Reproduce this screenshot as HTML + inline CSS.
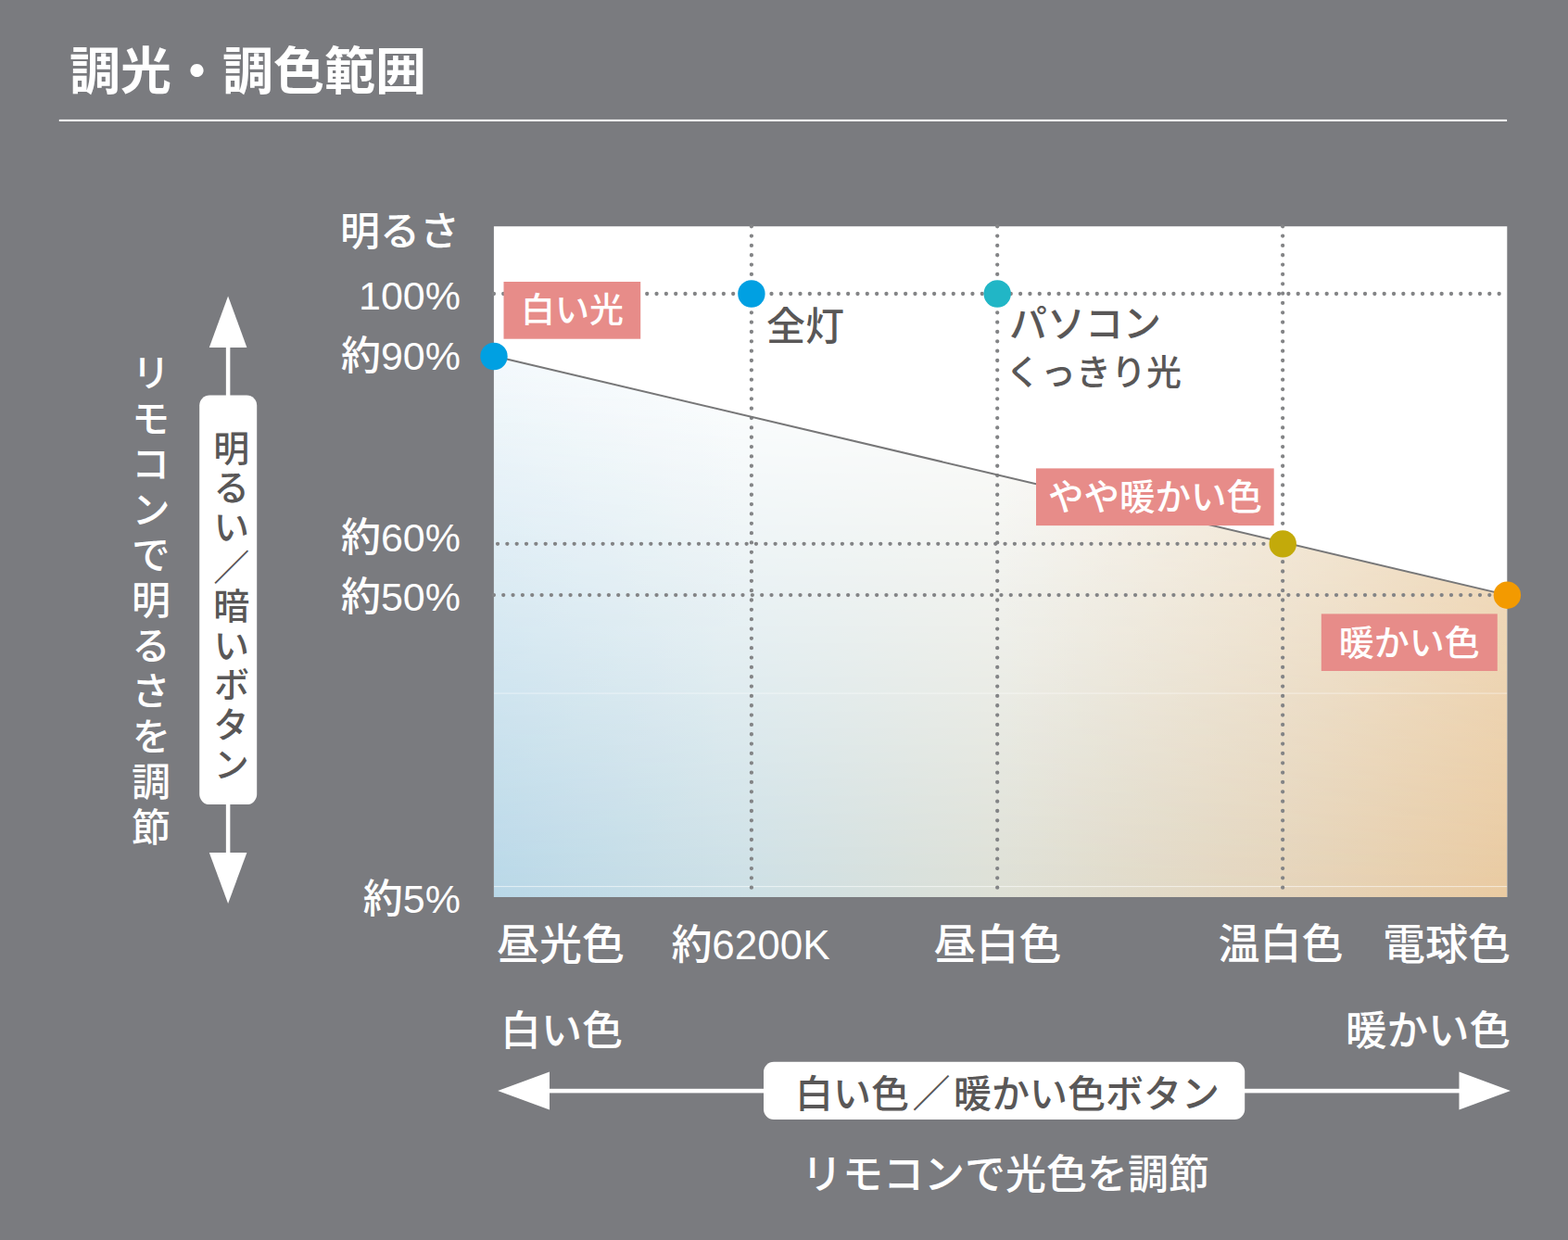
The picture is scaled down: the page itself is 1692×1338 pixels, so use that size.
<!DOCTYPE html>
<html lang="ja">
<head>
<meta charset="utf-8">
<title>調光・調色範囲</title>
<style>
html,body{margin:0;padding:0;background:#7a7b7f;}
body{width:1692px;height:1338px;overflow:hidden;font-family:"Liberation Sans","Noto Sans CJK JP",sans-serif;}
#chart{position:relative;width:1692px;height:1338px;background:#7a7b7f;overflow:hidden;}
#chart svg{position:absolute;left:0;top:0;display:block;}
#chart svg text{font-family:"Liberation Sans","Noto Sans CJK JP",sans-serif;font-weight:500;}
.t{position:absolute;display:block;overflow:hidden;white-space:nowrap;color:transparent;font-family:"Liberation Sans","Noto Sans CJK JP",sans-serif;}
</style>
</head>
<body>
<div id="chart">
<svg width="1692" height="1338" viewBox="0 0 1692 1338" role="img" aria-label="調光・調色範囲">
<defs><linearGradient id="gt" x1="0" y1="0" x2="1" y2="0"><stop offset="0" stop-color="#f4f9fc"/><stop offset="0.244" stop-color="#ffffff"/><stop offset="0.5" stop-color="#ffffff"/><stop offset="0.778" stop-color="#f8f0e3"/><stop offset="1" stop-color="#f3e2ca"/></linearGradient><linearGradient id="gb" x1="0" y1="0" x2="1" y2="0"><stop offset="0" stop-color="#b9d8e8"/><stop offset="0.244" stop-color="#cde0e6"/><stop offset="0.5" stop-color="#dee0d6"/><stop offset="0.778" stop-color="#e5d5bc"/><stop offset="1" stop-color="#eacba2"/></linearGradient><linearGradient id="gm" gradientUnits="userSpaceOnUse" x1="0" y1="384" x2="0" y2="968"><stop offset="0" stop-color="#fff" stop-opacity="1"/><stop offset="1" stop-color="#fff" stop-opacity="0"/></linearGradient><mask id="mk" maskUnits="userSpaceOnUse" x="532.9" y="384.3" width="1093.4" height="583.7"><rect x="532.9" y="384.3" width="1093.4" height="583.7" fill="url(#gm)"/></mask><clipPath id="under"><path d="M532.9 384.3L1626.3 642.1L1626.3 968.0L532.9 968.0Z"/></clipPath><clipPath id="chart"><rect x="532.9" y="244.25" width="1093.4" height="723.75"/></clipPath></defs>
<rect x="63.8" y="128.9" width="1562.3" height="2.1" fill="#fff"/>
<rect x="532.9" y="244.25" width="1093.4" height="723.75" fill="#fff"/>
<g clip-path="url(#under)"><rect x="532.9" y="384.3" width="1093.4" height="583.7" fill="url(#gb)"/><rect x="532.9" y="384.3" width="1093.4" height="583.7" fill="url(#gt)" mask="url(#mk)"/><rect x="532.9" y="747.6" width="1093.4" height="1" fill="#fff" opacity="0.5"/><rect x="532.9" y="956.1" width="1093.4" height="1" fill="#fff" opacity="0.6"/></g>
<g>
<path d="M532.9 317.0H1623.3" stroke="#838486" stroke-width="4.3" stroke-linecap="round" stroke-dasharray="0 10.331" fill="none"/>
<path d="M537.01 586.8H1384.15" stroke="#838486" stroke-width="4.3" stroke-linecap="round" stroke-dasharray="0 10.331" fill="none"/>
<path d="M532.9 642.1H1623.3" stroke="#838486" stroke-width="4.3" stroke-linecap="round" stroke-dasharray="0 10.331" fill="none"/>
<path d="M810.9 244.25V965.0" stroke="#838486" stroke-width="4.3" stroke-linecap="round" stroke-dasharray="0 10.34" fill="none"/>
<path d="M1076.2 244.25V965.0" stroke="#838486" stroke-width="4.3" stroke-linecap="round" stroke-dasharray="0 10.34" fill="none"/>
<path d="M1384.15 244.25V965.0" stroke="#838486" stroke-width="4.3" stroke-linecap="round" stroke-dasharray="0 10.34" fill="none"/>
</g>
<path d="M533.0 384.3L1626.5 642.1" stroke="#777778" stroke-width="2.0" fill="none"/>
<rect x="543.5" y="304" width="147.7" height="61.7" fill="#e78c89"/>
<rect x="1118.0" y="505.4" width="256.7" height="61.7" fill="#e78c89"/>
<rect x="1425.8" y="662.4" width="190.0" height="61.6" fill="#e78c89"/>
<circle cx="533.0" cy="384.5" r="14.7" fill="#00a0e2"/>
<circle cx="810.9" cy="317.0" r="14.7" fill="#00a0e2"/>
<circle cx="1076.2" cy="317.0" r="14.7" fill="#21b6c6"/>
<circle cx="1384.25" cy="586.9" r="14.7" fill="#c3aa0a"/>
<circle cx="1626.4" cy="642.2" r="14.7" fill="#f39a00"/>
<path fill="#fff" d="M246.1 319.4L266.4 374.9H225.79999999999998 Z"/>
<path fill="#fff" d="M246.1 975.0L266.4 919.9H225.79999999999998 Z"/>
<rect x="243.85" y="370" width="4.5" height="555" fill="#fff"/>
<rect x="215.2" y="426.6" width="62" height="441.5" rx="11" fill="#fff"/>
<path fill="#fff" d="M537.2 1177.1L593.0 1156.6V1197.6 Z"/>
<path fill="#fff" d="M1629.9 1177.1L1574.5 1156.6V1197.6 Z"/>
<rect x="588" y="1174.8" width="990" height="4.6" fill="#fff"/>
<rect x="824.0" y="1145.8" width="519.2" height="62.2" rx="11" fill="#fff"/>
<text x="75" y="96" font-size="55" fill="#fff" style="font-weight:700">調光・調色範囲</text>
<text x="496" y="264.5" font-size="43" fill="#fff" text-anchor="end">明るさ</text>
<text x="497" y="334" font-size="43" fill="#fff" text-anchor="end">100%</text>
<text x="497" y="399" font-size="43" fill="#fff" text-anchor="end">約90%</text>
<text x="497" y="595" font-size="43" fill="#fff" text-anchor="end">約60%</text>
<text x="497" y="658.5" font-size="43" fill="#fff" text-anchor="end">約50%</text>
<text x="497" y="984.5" font-size="43" fill="#fff" text-anchor="end">約5%</text>
<text x="536" y="1034.5" font-size="46" fill="#fff">昼光色</text>
<text x="810" y="1034.5" font-size="44" fill="#fff" text-anchor="middle">約6200K</text>
<text x="1076.5" y="1034.5" font-size="46" fill="#fff" text-anchor="middle">昼白色</text>
<text x="1382" y="1034.5" font-size="45" fill="#fff" text-anchor="middle">温白色</text>
<text x="1630" y="1034.5" font-size="46" fill="#fff" text-anchor="end">電球色</text>
<text x="540" y="1128" font-size="44" fill="#fff">白い色</text>
<text x="1630" y="1128" font-size="44.5" fill="#fff" text-anchor="end">暖かい色</text>
<text x="617.4" y="347.5" font-size="37" fill="#fff" text-anchor="middle">白い光</text>
<text x="1246.4" y="549.5" font-size="38.5" fill="#fff" text-anchor="middle">やや暖かい色</text>
<text x="1520.8" y="706.5" font-size="38" fill="#fff" text-anchor="middle">暖かい色</text>
<text x="827" y="366.5" font-size="42" fill="#595757">全灯</text>
<text x="1089" y="364" font-size="41" fill="#595757">パソコン</text>
<text x="1085" y="415" font-size="38" fill="#595757">くっきり光</text>
<text y="1195" font-size="41" fill="#595757"><tspan x="858">白い色</tspan><tspan x="1005" text-anchor="middle">／</tspan><tspan x="1029" text-anchor="start">暖かい色ボタン</tspan></text>
<text x="1085" y="1283" font-size="44" fill="#fff" text-anchor="middle">リモコンで光色を調節</text>
<text x="159" y="381.5" font-size="42" fill="#fff" style="writing-mode:vertical-rl;letter-spacing:7px">リモコンで明るさを調節</text>
<text x="246.2" y="463.5" font-size="39" fill="#595757" style="writing-mode:vertical-rl;letter-spacing:3.6px">明るい／暗いボタン</text>
</svg>
<span class="t" style="left:76px;top:47px;width:384px;height:53px;font-size:32px;line-height:53px;">調光・調色範囲</span>
<span class="t" style="left:366px;top:226px;width:129px;height:42px;font-size:32px;line-height:42px;">明るさ</span>
<span class="t" style="left:390px;top:298px;width:107px;height:36px;font-size:32px;line-height:36px;">100%</span>
<span class="t" style="left:361px;top:359px;width:136px;height:43px;font-size:32px;line-height:43px;">約90%</span>
<span class="t" style="left:361px;top:555px;width:136px;height:43px;font-size:32px;line-height:43px;">約60%</span>
<span class="t" style="left:361px;top:618px;width:136px;height:43px;font-size:32px;line-height:43px;">約50%</span>
<span class="t" style="left:385px;top:944px;width:112px;height:43px;font-size:32px;line-height:43px;">約5%</span>
<span class="t" style="left:537px;top:994px;width:139px;height:44px;font-size:32px;line-height:44px;">昼光色</span>
<span class="t" style="left:722px;top:995px;width:176px;height:43px;font-size:32px;line-height:43px;">約6200K</span>
<span class="t" style="left:1008px;top:994px;width:137px;height:43px;font-size:32px;line-height:43px;">昼白色</span>
<span class="t" style="left:1314px;top:994px;width:136px;height:43px;font-size:32px;line-height:43px;">温白色</span>
<span class="t" style="left:1491px;top:994px;width:138px;height:43px;font-size:32px;line-height:43px;">電球色</span>
<span class="t" style="left:541px;top:1088px;width:130px;height:43px;font-size:32px;line-height:43px;">白い色</span>
<span class="t" style="left:1451px;top:1089px;width:178px;height:44px;font-size:32px;line-height:44px;">暖かい色</span>
<span class="t" style="left:564px;top:314px;width:111px;height:36px;font-size:29px;line-height:36px;">白い光</span>
<span class="t" style="left:1131px;top:516px;width:231px;height:36px;font-size:29px;line-height:36px;">やや暖かい色</span>
<span class="t" style="left:1446px;top:673px;width:151px;height:37px;font-size:30px;line-height:37px;">暖かい色</span>
<span class="t" style="left:828px;top:331px;width:84px;height:39px;font-size:31px;line-height:39px;">全灯</span>
<span class="t" style="left:1090px;top:326px;width:162px;height:42px;font-size:32px;line-height:42px;">パソコン</span>
<span class="t" style="left:1086px;top:376px;width:187px;height:42px;font-size:32px;line-height:42px;">くっきり光</span>
<span class="t" style="left:854px;top:1155px;width:466px;height:43px;font-size:32px;line-height:43px;">白い色／暖かい色ボタン</span>
<span class="t" style="left:864px;top:1244px;width:442px;height:43px;font-size:32px;line-height:43px;">リモコンで光色を調節</span>
<span class="t" style="left:137px;top:383px;width:46px;height:531px;font-size:32px;line-height:46px;writing-mode:vertical-rl;">リモコンで明るさを調節</span>
<span class="t" style="left:224px;top:462px;width:43px;height:384px;font-size:32px;line-height:43px;writing-mode:vertical-rl;">明るい／暗いボタン</span>
</div>
</body>
</html>
